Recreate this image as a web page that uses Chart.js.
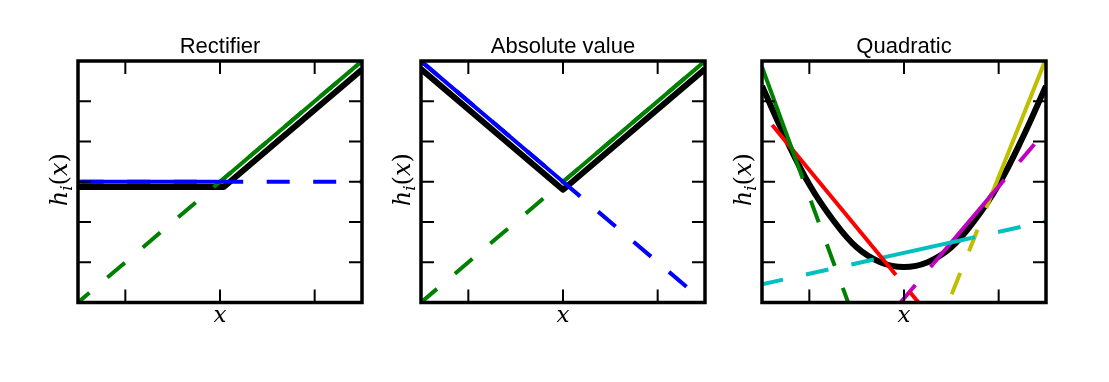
<!DOCTYPE html>
<html>
<head>
<meta charset="utf-8">
<script src="https://cdn.jsdelivr.net/npm/chart.js@4"></script>
<style>
html, body { margin: 0; padding: 0; background: #fff; }
#wrap { position: relative; width: 1109px; height: 382px; overflow: hidden; }
.panel { position: absolute; top: 0; width: 370px; height: 382px; }
</style>
</head>
<body>
<div id="wrap">
  <div class="panel" style="left:0px"><canvas id="rectChart"></canvas></div>
  <div class="panel" style="left:343px"><canvas id="absChart"></canvas></div>
  <div class="panel" style="left:684px"><canvas id="quadChart"></canvas></div>
</div>
<script>
// ticks (no tick labels in the figure)
const xTicks = [-2, 0, 2];
const yTicks = [-2, -1, 0, 1, 2];
const titles = ['Rectifier', 'Absolute value', 'Quadratic'];

// Rectifier
const rectOutX = [-3, 0.08, 3];
const rectOutY = [-0.13, -0.13, 2.79];
const rectBlueX = [-3, 0];
const rectBlueY = [0, 0];
const rectBlueFullX = [-3, 3];
const rectBlueFullY = [0, 0];
const rectGreenX = [0, 3];
const rectGreenY = [0, 3];
const rectGreenFullX = [-3, 3];
const rectGreenFullY = [-3, 3];

// Absolute value
const absOutX = [-3, 0, 3];
const absOutY = [2.8, -0.2, 2.8];
const absBlueX = [-3, 0];
const absBlueY = [3, 0];
const absBlueFullX = [-3, 3];
const absBlueFullY = [3, -3];
const absGreenX = [0, 3];
const absGreenY = [0, 3];
const absGreenFullX = [-3, 3];
const absGreenFullY = [-3, 3];

// Quadratic
const quadOutX = [-3, -2.5, -2, -1.5, -1, -0.5, 0, 0.5, 1, 1.5, 2, 2.5, 3];
const quadOutY = [2.38, 1.08, -0.07, -0.95, -1.63, -2.0, -2.12, -2.0, -1.63, -0.95, -0.07, 1.08, 2.38];
const quadGreenX = [-3, -2.14];        const quadGreenY = [2.85, 0.08];
const quadGreenDashX = [-2.14, -1.18]; const quadGreenDashY = [0.08, -3];
const quadRedX = [-2.785, -0.17];      const quadRedY = [1.41, -2.319];
const quadRedDashX = [-0.17, 0.307];   const quadRedDashY = [-2.319, -3];
const quadCyanDashAX = [-3, -0.48];    const quadCyanDashAY = [-2.546, -1.891];
const quadCyanX = [-0.48, 1.42];       const quadCyanY = [-1.891, -1.397];
const quadCyanDashBX = [1.42, 3];      const quadCyanDashBY = [-1.397, -0.986];
const quadMagDashAX = [-0.074, 0.61];  const quadMagDashAY = [-3, -2.05];
const quadMagX = [0.61, 2.12];         const quadMagY = [-2.05, 0.05];
const quadMagDashBX = [2.12, 3];       const quadMagDashBY = [0.05, 1.274];
const quadYelX = [2.979, 1.737];       const quadYelY = [3, -0.652];
const quadYelDashX = [1.737, 0.938];   const quadYelDashY = [-0.652, -3];

const DASH = [23, 23.5];

function pts(xs, ys) {
  return xs.map((x, i) => ({x: x, y: ys[i]}));
}

function line(xs, ys, color, opts) {
  opts = opts || {};
  return {
    data: pts(xs, ys),
    showLine: true,
    borderColor: color,
    borderWidth: opts.width || 4,
    borderDash: opts.dash ? DASH : [],
    borderDashOffset: opts.offset || 0,
    borderCapStyle: 'butt',
    borderJoinStyle: 'round',
    tension: opts.tension || 0,
    pointRadius: 0,
    pointHoverRadius: 0,
    clip: 0,
    order: opts.order || 1
  };
}

function outLine(xs, ys, tension) {
  return line(xs, ys, '#000000', {width: 6, order: 5, tension: tension});
}

const axesDecor = {
  id: 'axesDecor',
  afterDraw(chart) {
    const ctx = chart.ctx;
    const a = chart.chartArea;
    const sx = chart.scales.x, sy = chart.scales.y;
    ctx.save();
    ctx.strokeStyle = '#000';
    ctx.lineWidth = 2;
    ctx.beginPath();
    xTicks.forEach(v => {
      const p = sx.getPixelForValue(v);
      ctx.moveTo(p, a.top); ctx.lineTo(p, a.top + 13);
      ctx.moveTo(p, a.bottom); ctx.lineTo(p, a.bottom - 13);
    });
    yTicks.forEach(v => {
      const p = sy.getPixelForValue(v);
      ctx.moveTo(a.left, p); ctx.lineTo(a.left + 13, p);
      ctx.moveTo(a.right, p); ctx.lineTo(a.right - 13, p);
    });
    ctx.stroke();
    ctx.lineWidth = 3.5;
    ctx.strokeRect(a.left, a.top, a.right - a.left, a.bottom - a.top);

    // x label
    ctx.fillStyle = '#000';
    ctx.textAlign = 'center';
    ctx.textBaseline = 'alphabetic';
    ctx.font = 'italic 23px "DejaVu Serif"';
    ctx.fillText('x', (a.left + a.right) / 2, a.bottom + 19);

    // y label h_i(x), rotated
    const parts = [
      {t: 'h', f: 'italic 24px "DejaVu Serif"', dy: 0},
      {t: 'i', f: 'italic 17px "DejaVu Serif"', dy: 5},
      {t: '(', f: '24px "DejaVu Serif"', dy: 0},
      {t: 'x', f: 'italic 24px "DejaVu Serif"', dy: 0},
      {t: ')', f: '24px "DejaVu Serif"', dy: 0}
    ];
    let total = 0;
    parts.forEach(p => { ctx.font = p.f; p.w = ctx.measureText(p.t).width; total += p.w; });
    ctx.translate(a.left - 11, (a.top + a.bottom) / 2 - 2);
    ctx.rotate(-Math.PI / 2);
    ctx.textAlign = 'left';
    let cx = -total / 2;
    parts.forEach(p => { ctx.font = p.f; ctx.fillText(p.t, cx, p.dy); cx += p.w; });
    ctx.restore();
  }
};

function makeChart(id, title, datasets) {
  return new Chart(document.getElementById(id), {
    type: 'scatter',
    data: {datasets: datasets},
    options: {
      responsive: true,
      maintainAspectRatio: false,
      animation: false,
      devicePixelRatio: 1,
      events: [],
      layout: {padding: {left: 78, right: 8, top: 0, bottom: 79.5}},
      scales: {
        x: {type: 'linear', min: -3, max: 3, display: false},
        y: {type: 'linear', min: -3, max: 3, display: false}
      },
      plugins: {
        legend: {display: false},
        tooltip: {enabled: false},
        title: {
          display: true,
          text: title,
          color: '#000',
          font: {family: '"Liberation Sans", Arial, sans-serif', size: 22, weight: 'normal', lineHeight: 1.2},
          padding: {top: 34.2, bottom: 0.4}
        }
      }
    },
    plugins: [axesDecor]
  });
}

makeChart('rectChart', titles[0], [
  line(rectBlueX, rectBlueY, '#0000ff'),
  line(rectBlueFullX, rectBlueFullY, '#0000ff', {dash: true, offset: -2.7}),
  line(rectGreenX, rectGreenY, '#008000'),
  line(rectGreenFullX, rectGreenFullY, '#008000', {dash: true, offset: 8}),
  outLine(rectOutX, rectOutY)
]);

makeChart('absChart', titles[1], [
  line(absBlueX, absBlueY, '#0000ff'),
  line(absBlueFullX, absBlueFullY, '#0000ff', {dash: true, offset: 0}),
  line(absGreenX, absGreenY, '#008000'),
  line(absGreenFullX, absGreenFullY, '#008000', {dash: true, offset: 2}),
  outLine(absOutX, absOutY)
]);

makeChart('quadChart', titles[2], [
  line(quadGreenX, quadGreenY, '#008000'),
  line(quadGreenDashX, quadGreenDashY, '#008000', {dash: true, offset: 23}),
  line(quadRedX, quadRedY, '#ff0000'),
  line(quadRedDashX, quadRedDashY, '#ff0000', {dash: true, offset: 25}),
  line(quadCyanDashAX, quadCyanDashAY, '#00bfbf', {dash: true, offset: 1.5}),
  line(quadCyanX, quadCyanY, '#00bfbf'),
  line(quadCyanDashBX, quadCyanDashBY, '#00bfbf', {dash: true, offset: 19}),
  line(quadMagDashAX, quadMagDashAY, '#bf00bf', {dash: true, offset: 0}),
  line(quadMagX, quadMagY, '#bf00bf'),
  line(quadMagDashBX, quadMagDashBY, '#bf00bf', {dash: true, offset: 23}),
  line(quadYelX, quadYelY, '#bfbf00'),
  line(quadYelDashX, quadYelDashY, '#bfbf00', {dash: true, offset: 23}),
  outLine(quadOutX, quadOutY, 0.4)
]);
</script>
</body>
</html>
